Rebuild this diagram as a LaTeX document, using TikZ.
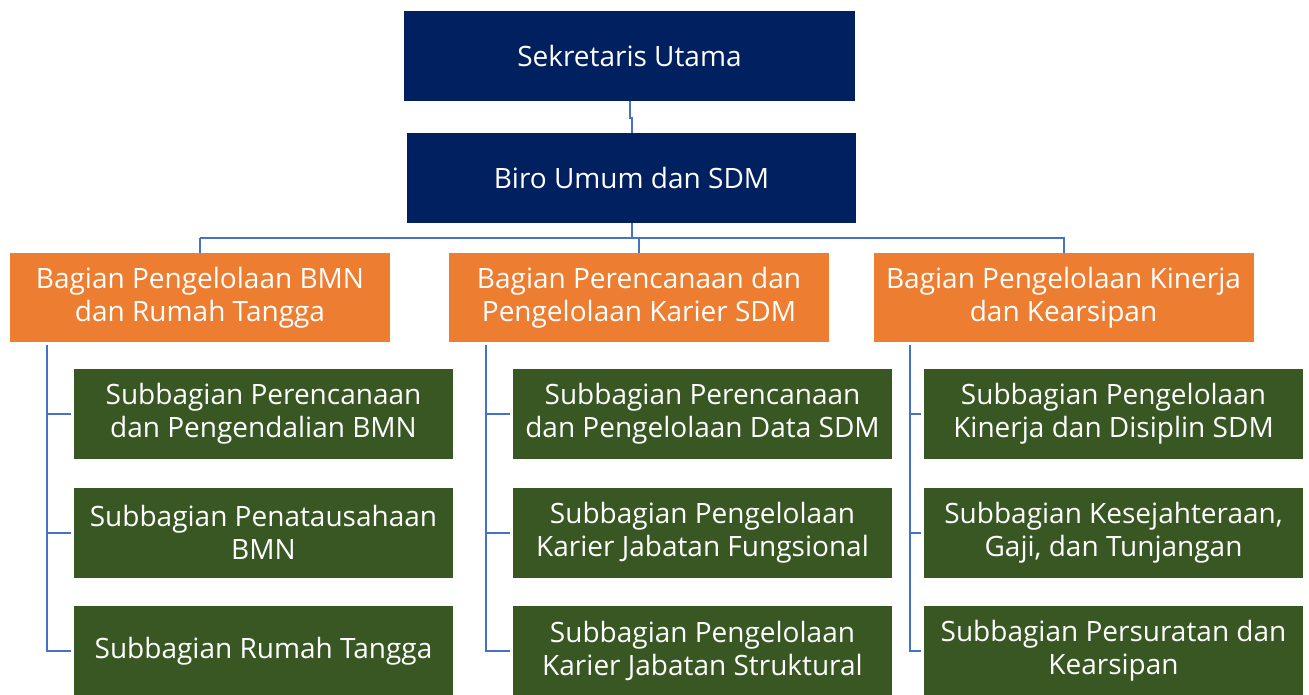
\documentclass[tikz,border=0pt]{standalone}
\usepackage{fontspec}
\setmainfont{Open Sans}
\usetikzlibrary{calc}
\definecolor{navybox}{HTML}{002060}
\definecolor{orangebox}{HTML}{ED7D31}
\definecolor{greenbox}{HTML}{385723}
\definecolor{linkblue}{HTML}{4472C4}

\begin{document}
\begin{tikzpicture}[
    x=1pt, y=-1pt,
    every node/.style={text=white, align=center, inner sep=0pt,
        font=\fontsize{28}{33}\selectfont},
    headbox/.style={fill=navybox, minimum height=90pt},
    bagbox/.style={fill=orangebox, minimum width=380pt, minimum height=89pt},
    subbox/.style={fill=greenbox, minimum width=379pt, minimum height=90pt},
    link/.style={draw=linkblue, line width=2pt}
]
\useasboundingbox (0,0) rectangle (1309,695);

% Heads
\node[headbox, minimum width=451pt] (sek) at (629.5,56) {Sekretaris Utama};
\node[headbox, minimum width=449pt] (biro) at (631.5,178) {Biro Umum dan SDM};

% Bagian
\node[bagbox] (bag1) at (200,297.5) {Bagian Pengelolaan BMN\\dan Rumah Tangga};
\node[bagbox] (bag2) at (639,297.5) {Bagian Perencanaan dan\\Pengelolaan Karier SDM};
\node[bagbox] (bag3) at (1063.5,297.5) {Bagian Pengelolaan Kinerja\\dan Kearsipan};

% Subbagian
\node[subbox] (sub11) at (263.5,414) {Subbagian Perencanaan\\dan Pengendalian BMN};
\node[subbox] (sub12) at (263.5,532.5) {Subbagian Penatausahaan\\BMN};
\node[subbox] (sub13) at (263.5,651) {Subbagian Rumah Tangga};
\node[subbox] (sub21) at (702.5,414) {Subbagian Perencanaan\\dan Pengelolaan Data SDM};
\node[subbox] (sub22) at (702.5,532.5) {Subbagian Pengelolaan\\Karier Jabatan Fungsional};
\node[subbox] (sub23) at (702.5,651) {Subbagian Pengelolaan\\Karier Jabatan Struktural};
\node[subbox] (sub31) at (1113.5,414) {Subbagian Pengelolaan\\Kinerja dan Disiplin SDM};
\node[subbox] (sub32) at (1113.5,532.5) {Subbagian Kesejahteraan,\\Gaji, dan Tunjangan};
\node[subbox] (sub33) at (1113.5,651) {Subbagian Persuratan dan\\Kearsipan};

% Links
\draw[link] (sek.south) -- ++(0,17) -| (biro.north);
\draw[link] (biro.south) -- ++(0,15) coordinate (bus);
\draw[link] (bag1.north |- bus) -- (bag1.north);
\draw[link] (bag1.north |- bus) -- (bag3.north |- bus) -- (bag3.north);
\draw[link] (bag2.north |- bus) -- (bag2.north);

\foreach \c in {1,2,3}{
    \coordinate (v\c) at ($(bag\c.south west)+(37,3)$);
    \draw[link] (v\c) |- ([xshift=-3pt]sub\c3.west);
    \draw[link] (v\c |- sub\c1.west) -- ([xshift=-3pt]sub\c1.west);
    \draw[link] (v\c |- sub\c2.west) -- ([xshift=-3pt]sub\c2.west);
}
\end{tikzpicture}
\end{document}
